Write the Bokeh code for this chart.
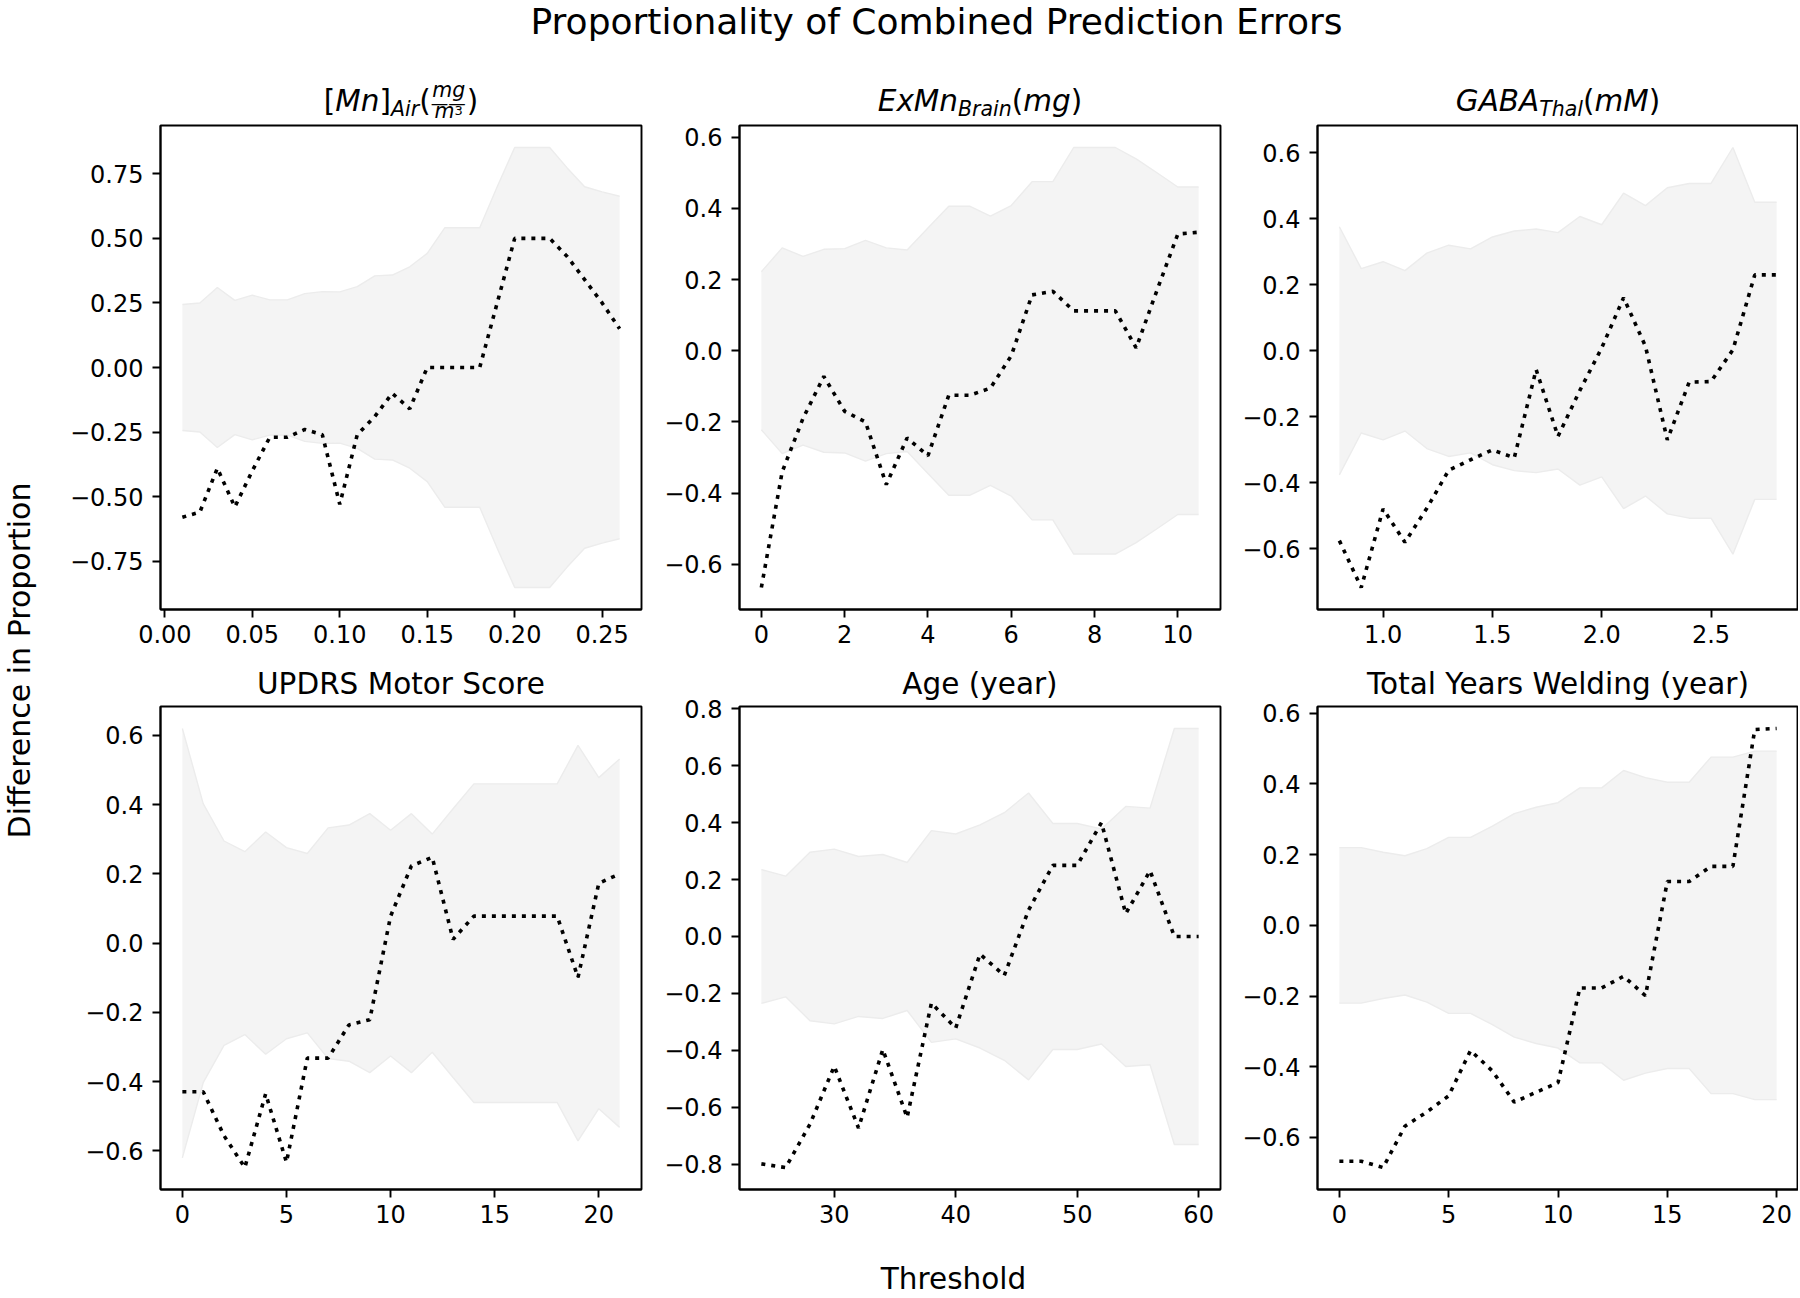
import math
from bokeh.plotting import figure
from bokeh.layouts import row, column
from bokeh.models import Label, FixedTicker, CustomJSTickFormatter, Range1d
from bokeh.embed import file_html
from bokeh.resources import INLINE

# ---------------- data ----------------
mn_air_x = [0.01, 0.02, 0.03, 0.04, 0.05, 0.06, 0.07, 0.08, 0.09, 0.10, 0.11, 0.12, 0.13,
            0.14, 0.15, 0.16, 0.17, 0.18, 0.19, 0.20, 0.21, 0.22, 0.23, 0.24, 0.25, 0.26]
mn_air_diff = [-0.58, -0.56, -0.39, -0.54, -0.40, -0.27, -0.27, -0.24, -0.26, -0.53, -0.26, -0.19, -0.10,
               -0.16, 0.0, 0.0, 0.0, 0.0, 0.25, 0.50, 0.50, 0.50, 0.43, 0.34, 0.25, 0.15]
mn_air_band = [0.244, 0.25, 0.31, 0.26, 0.28, 0.262, 0.262, 0.286, 0.294, 0.293, 0.313, 0.355, 0.358,
               0.39, 0.442, 0.541, 0.541, 0.541, 0.70, 0.852, 0.852, 0.852, 0.773, 0.70, 0.68, 0.663]

exmn_x = [0, 0.5, 1.0, 1.5, 2.0, 2.5, 3.0, 3.5, 4.0, 4.5, 5.0, 5.5, 6.0, 6.5, 7.0, 7.5, 8.0, 8.5,
          9.0, 9.5, 10.0, 10.5]
exmn_diff = [-0.665, -0.34, -0.19, -0.072, -0.17, -0.20, -0.376, -0.245, -0.295, -0.125, -0.125, -0.105,
             -0.014, 0.157, 0.167, 0.112, 0.112, 0.112, 0.008, 0.17, 0.328, 0.333]
exmn_band = [0.222, 0.289, 0.265, 0.285, 0.287, 0.31, 0.289, 0.283, 0.345, 0.406, 0.406, 0.378,
             0.408, 0.475, 0.475, 0.571, 0.571, 0.571, 0.539, 0.50, 0.46, 0.46]

gaba_x = [0.8, 0.9, 1.0, 1.1, 1.2, 1.3, 1.4, 1.5, 1.6, 1.7, 1.8, 1.9, 2.0, 2.1, 2.2, 2.3, 2.4, 2.5,
          2.6, 2.7, 2.8]
gaba_diff = [-0.575, -0.717, -0.479, -0.58, -0.477, -0.362, -0.33, -0.30, -0.324, -0.057, -0.259, -0.12,
             0.009, 0.161, 0.014, -0.27, -0.095, -0.093, 0.003, 0.23, 0.23]
gaba_band = [0.376, 0.249, 0.27, 0.243, 0.296, 0.32, 0.309, 0.345, 0.363, 0.369, 0.358, 0.407,
             0.382, 0.478, 0.44, 0.494, 0.507, 0.507, 0.616, 0.45, 0.45]

updrs_x = [0, 1, 2, 3, 4, 5, 6, 7, 8, 9, 10, 11, 12, 13, 14, 15, 16, 17, 18, 19, 20, 21]
updrs_diff = [-0.429, -0.429, -0.556, -0.648, -0.435, -0.633, -0.332, -0.332, -0.236, -0.221, 0.078,
              0.223, 0.248, 0.011, 0.078, 0.078, 0.078, 0.078, 0.078, -0.099, 0.173, 0.2]
updrs_band = [0.62, 0.403, 0.295, 0.264, 0.321, 0.276, 0.259, 0.333, 0.341, 0.374, 0.326, 0.374,
              0.315, 0.388, 0.46, 0.46, 0.46, 0.46, 0.46, 0.571, 0.478, 0.532]

age_x = [24, 26, 28, 30, 32, 34, 36, 38, 40, 42, 44, 46, 48, 50, 52, 54, 56, 58, 60]
age_diff = [-0.799, -0.812, -0.66, -0.456, -0.673, -0.397, -0.636, -0.234, -0.322, -0.062, -0.137,
            0.093, 0.25, 0.25, 0.40, 0.08, 0.231, 0.0, 0.0]
age_band = [0.235, 0.212, 0.296, 0.307, 0.281, 0.288, 0.26, 0.372, 0.36, 0.392, 0.435, 0.504,
            0.397, 0.397, 0.378, 0.457, 0.451, 0.731, 0.731]

weld_x = [0, 1, 2, 3, 4, 5, 6, 7, 8, 9, 10, 11, 12, 13, 14, 15, 16, 17, 18, 19, 20]
weld_diff = [-0.667, -0.667, -0.685, -0.568, -0.528, -0.482, -0.354, -0.412, -0.50, -0.472, -0.445,
             -0.177, -0.177, -0.144, -0.199, 0.124, 0.124, 0.167, 0.167, 0.554, 0.557]
weld_band = [0.22, 0.22, 0.207, 0.197, 0.217, 0.249, 0.249, 0.281, 0.316, 0.334, 0.347, 0.389,
             0.389, 0.438, 0.418, 0.405, 0.405, 0.476, 0.476, 0.493, 0.493]

# tick values and labels
mn_xticks = [0.0, 0.05, 0.10, 0.15, 0.20, 0.25]
mn_xlabels = ["0.00", "0.05", "0.10", "0.15", "0.20", "0.25"]
mn_yticks = [-0.75, -0.5, -0.25, 0.0, 0.25, 0.5, 0.75]
mn_ylabels = ["\u22120.75", "\u22120.50", "\u22120.25", "0.00", "0.25", "0.50", "0.75"]

exmn_xticks = [0, 2, 4, 6, 8, 10]
exmn_xlabels = ["0", "2", "4", "6", "8", "10"]
gaba_xticks = [1.0, 1.5, 2.0, 2.5]
gaba_xlabels = ["1.0", "1.5", "2.0", "2.5"]
updrs_xticks = [0, 5, 10, 15, 20]
updrs_xlabels = ["0", "5", "10", "15", "20"]
age_xticks = [30, 40, 50, 60]
age_xlabels = ["30", "40", "50", "60"]
weld_xticks = [0, 5, 10, 15, 20]
weld_xlabels = ["0", "5", "10", "15", "20"]

y6_ticks = [-0.6, -0.4, -0.2, 0.0, 0.2, 0.4, 0.6]
y6_labels = ["\u22120.6", "\u22120.4", "\u22120.2", "0.0", "0.2", "0.4", "0.6"]
y8_ticks = [-0.8, -0.6, -0.4, -0.2, 0.0, 0.2, 0.4, 0.6, 0.8]
y8_labels = ["\u22120.8", "\u22120.6", "\u22120.4", "\u22120.2", "0.0", "0.2", "0.4", "0.6", "0.8"]

suptitle = "Proportionality of Combined Prediction Errors"
ylabel_text = "Difference in Proportion"
xlabel_text = "Threshold"
updrs_title = "UPDRS Motor Score"
age_title = "Age (year)"
weld_title = "Total Years Welding (year)"

# ---------------- style / layout ----------------
FONT = "DejaVu Sans"
TICK_PX = "24px"
TITLE_PX = 29.5
FW = 481
FH1, FH2 = 484, 483
YLAB_W = 40
GRID_W = 1758
ROW1_TOP = 3
HEADER_H = 125 - ROW1_TOP
FOOTER_H = 63
TOTAL_H = 1298
MID = 0.346  # distance from alphabetic baseline to text middle, in em

CW = {'[': 0.390, ']': 0.390, 'M': 0.863, 'n': 0.634, 'A': 0.684, 'i': 0.278, 'r': 0.411,
      '(': 0.390, ')': 0.390, 'm': 0.974, 'g': 0.635, '3': 0.636, 'E': 0.632, 'x': 0.592,
      'B': 0.686, 'a': 0.613, 'G': 0.775, 'T': 0.611, 'h': 0.634, 'l': 0.278, '\u2014': 1.0}


def tw(s, size):
    return sum(CW.get(c, 0.6) for c in s) * size


def tick_fmt(vals, labs):
    return CustomJSTickFormatter(args=dict(vals=vals, labs=labs), code="""
        for (let i = 0; i < vals.length; i++) {
            if (Math.abs(vals[i] - tick) < 1e-9) { return labs[i]; }
        }
        return '';
    """)


def make_panel(x, d, b, xt, xl, yt, yl, fh, mbl, mbr, mbt, mbb, title=None):
    lower = [-v for v in b]
    lo = min(min(d), min(lower))
    hi = max(max(d), max(b))
    pad = 0.05 * (hi - lo)
    xpad = 0.05 * (max(x) - min(x))
    p = figure(frame_width=FW, frame_height=fh,
               x_range=Range1d(min(x) - xpad, max(x) + xpad),
               y_range=Range1d(lo - pad, hi + pad),
               output_backend="svg", toolbar_location=None,
               min_border_left=mbl, min_border_right=mbr,
               min_border_top=mbt, min_border_bottom=mbb)
    p.grid.visible = False
    p.background_fill_color = "white"
    p.border_fill_color = "white"
    p.outline_line_color = "black"
    p.outline_line_width = 1.9
    p.outline_line_alpha = 1.0
    p.varea(x=x, y1=lower, y2=b, fill_color="#f4f4f4")
    p.line(x, b, line_color="#ececec", line_width=1.4)
    p.line(x, lower, line_color="#ececec", line_width=1.4)
    p.line(x, d, line_color="black", line_width=3.6, line_dash="4 6")
    p.xaxis.ticker = FixedTicker(ticks=xt)
    p.xaxis.formatter = tick_fmt(xt, xl)
    p.yaxis.ticker = FixedTicker(ticks=yt)
    p.yaxis.formatter = tick_fmt(yt, yl)
    for ax in (p.xaxis[0], p.yaxis[0]):
        ax.axis_line_width = 1.9
        ax.axis_line_color = "black"
        ax.major_tick_line_width = 1.9
        ax.major_tick_line_color = "black"
        ax.major_tick_out = 8
        ax.major_tick_in = 0
        ax.minor_tick_line_color = None
        ax.major_label_text_font = FONT
        ax.major_label_text_font_size = TICK_PX
        ax.major_label_text_color = "black"
    p.xaxis.major_label_standoff = 7
    p.yaxis.major_label_standoff = 9
    if title:
        p.title.text = title
        p.title.align = "center"
        p.title.text_font = FONT
        p.title.text_font_size = f"{TITLE_PX}px"
        p.title.text_font_style = "normal"
        p.title.text_color = "black"
        p.title.standoff = 11
    else:
        p.title = None
    return p


# ---------------- panels ----------------
p1 = make_panel(mn_air_x, mn_air_diff, mn_air_band, mn_xticks, mn_xlabels, mn_yticks, mn_ylabels,
                FH1, 120, 5, ROW1_TOP, 46)
p2 = make_panel(exmn_x, exmn_diff, exmn_band, exmn_xticks, exmn_xlabels, y6_ticks, y6_labels,
                FH1, 93, 5, ROW1_TOP, 46)
p3 = make_panel(gaba_x, gaba_diff, gaba_band, gaba_xticks, gaba_xlabels, y6_ticks, y6_labels,
                FH1, 92, 0, ROW1_TOP, 46)
p4 = make_panel(updrs_x, updrs_diff, updrs_band, updrs_xticks, updrs_xlabels, y6_ticks, y6_labels,
                FH2, 120, 5, 51, 46, updrs_title)
p5 = make_panel(age_x, age_diff, age_band, age_xticks, age_xlabels, y8_ticks, y8_labels,
                FH2, 93, 5, 51, 46, age_title)
p6 = make_panel(weld_x, weld_diff, weld_band, weld_xticks, weld_xlabels, y6_ticks, y6_labels,
                FH2, 92, 0, 51, 46, weld_title)


# ---------------- header / footer / y label ----------------
def blank(w, h):
    f = figure(width=w, height=h, x_range=Range1d(0, w), y_range=Range1d(0, h),
               output_backend="svg", toolbar_location=None, min_border=0)
    f.title = None
    f.axis.visible = False
    f.grid.visible = False
    f.outline_line_color = None
    f.background_fill_color = "white"
    f.border_fill_color = "white"
    return f


def text_at(fig, x, base_y, text, size, style="normal", align="left", angle=0.0):
    """place text so that its alphabetic baseline is at base_y (or base x when rotated)"""
    if angle:
        ax, ay = x - MID * size, base_y
    else:
        ax, ay = x, base_y + MID * size
    fig.add_layout(Label(x=ax, y=ay, text=text, text_font=FONT, text_font_size=f"{size}px",
                         text_font_style=style, text_color="black", text_align=align,
                         text_baseline="middle", angle=angle))


header = blank(GRID_W, HEADER_H)
text_at(header, 896, HEADER_H - 33, suptitle, 36, align="center")


def seq(parts):
    out, cur = [], 0.0
    for t, s, st, dy in parts:
        out.append((t, s, st, cur, dy))
        cur += tw(t, s)
    return out, cur


def place_title(pieces, center_x):
    total = max(px + tw(t, s) for t, s, st, px, dy in pieces)
    x0 = center_x - total / 2
    base = 14 - ROW1_TOP
    for t, s, st, px, dy in pieces:
        text_at(header, x0 + px, base + dy, t, s, style=st)


# frame centres in header coordinates
c1 = 120 + FW / 2
c2 = (120 + FW + 5) + 93 + FW / 2
c3 = (120 + FW + 5) + (93 + FW + 5) + 92 + FW / 2

T, S = TITLE_PX, 20.5
pc1, cur = seq([("[", T, "normal", 0), ("Mn", T, "italic", 0), ("]", T, "normal", 0),
                ("Air", S, "italic", -5), ("(", T, "normal", 0)])
fw_frac = tw("mg", S) + 3
num_x = cur + (fw_frac - tw("mg", S)) / 2
den_w = tw("m", S) + tw("3", 13)
den_x = cur + (fw_frac - den_w) / 2
pc1 += [("mg", S, "italic", num_x, 14),
        ("\u2014\u2014", 17.5, "normal", cur, 2),
        ("m", S, "italic", den_x, -7),
        ("3", 13, "normal", den_x + tw("m", S), -3),
        (")", T, "normal", cur + fw_frac, 0)]
place_title(pc1, c1)

pc2, _ = seq([("ExMn", T, "italic", 0), ("Brain", S, "italic", -5), ("(", T, "normal", 0),
              ("mg", T, "italic", 0), (")", T, "normal", 0)])
place_title(pc2, c2)

pc3, _ = seq([("GABA", T, "italic", 0), ("Thal", S, "italic", -5), ("(", T, "normal", 0),
              ("mM", T, "italic", 0), (")", T, "normal", 0)])
place_title(pc3, c3)

footer = blank(GRID_W, FOOTER_H)
text_at(footer, 953 - YLAB_W, 9, xlabel_text, 29.5, align="center")

yfig = blank(YLAB_W, TOTAL_H)
text_at(yfig, 29, TOTAL_H - 660, ylabel_text, 30, align="center", angle=math.pi / 2)

layout = row(yfig, column(header, row(p1, p2, p3), row(p4, p5, p6), footer))

open("out.html", "w").write(file_html(layout, INLINE))
